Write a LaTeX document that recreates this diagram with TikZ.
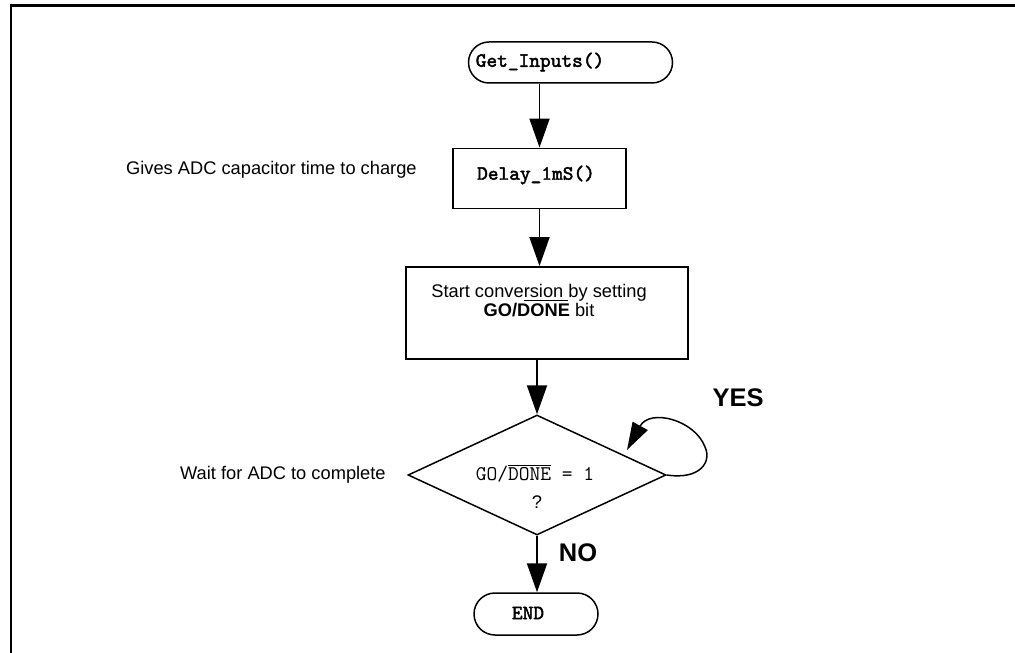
\documentclass[tikz,border=0pt]{standalone}
\usepackage{fontspec}
\setmainfont{Liberation Sans}
\newfontfamily\codefont{lmmono10-regular.otf}[FakeBold=2.2]
\usetikzlibrary{positioning, shapes.geometric, shapes.misc, arrows.meta}

\begin{document}
\begin{tikzpicture}[font=\fontsize{10.4}{10.9}\selectfont]
\tikzstyle{term}=[draw, rounded rectangle, line width=0.85pt, minimum height=0.82cm, inner sep=0pt]
\tikzstyle{proc}=[draw, rectangle, line width=1.1pt, inner sep=0pt]
\tikzstyle{code}=[font=\fontsize{11.6}{12}\selectfont\codefont]
\tikzstyle{flow}=[line width=1.1pt, -{Triangle[length=0.58cm, width=0.4cm]}]
\tikzstyle{answer}=[font=\fontsize{14.5}{17}\selectfont\bfseries]
\tikzstyle{note}=[anchor=east, inner sep=0pt]
\useasboundingbox (0,0) rectangle (20.3,-13.06);
\draw[line width=1.7pt] (0.22,-13.06) -- (0.22,-0.12) -- (20.3,-0.12);
% flow boxes
\node[term, minimum width=4.08cm] (start) at (11.41,-1.25) {};
\node[code] (startlbl) at (10.8,-1.24) {Get\_Inputs()};
\node[proc, minimum width=3.46cm, minimum height=1.2cm] (delay) at (10.79,-3.57) {};
\node[code] (delaylbl) at (10.72,-3.5) {Delay\_1mS()};
\node[proc, minimum width=5.64cm, minimum height=1.84cm] (conv) at (10.94,-6.26) {};
\node[align=center] (convlbl) at (10.78,-6.01) {Start conve\underline{rsion\ }by setting\\\textbf{GO/DONE} bit};
\node[draw, diamond, line width=0.85pt, minimum width=5.16cm, minimum height=2.4cm, inner sep=0pt] (test) at (10.74,-9.5) {};
\node[font=\fontsize{11.9}{12}\selectfont\ttfamily] (testlbl) at (10.7,-9.46) {GO/$\overline{\hbox{DONE}}$ = 1};
\node (qmark) at (10.74,-10.04) {?};
\node[term, minimum width=2.48cm, minimum height=0.84cm] (stop) at (10.72,-12.28) {};
\node[code] (stoplbl) at (10.56,-12.26) {END};
% notes
\node[note] (delaynote) at (8.34,-3.4) {Gives ADC capacitor time to charge};
\node[note] (waitnote) at (7.72,-9.5) {Wait for ADC to complete};
\node[answer] (yes) at (14.76,-7.96) {YES};
\node[answer] (no) at (11.56,-11.06) {NO};
% arrows
\draw[flow] (start.south -| delay) -- (delay.north);
\draw[flow] (delay.south) -- (delay.south |- conv.north);
\draw[flow] (conv.south -| test) -- (test.north);
\draw[flow] (test.south) -- (test.south |- stop.north);
\coordinate (looptip) at (12.54,-9.0);
\draw[line width=0.85pt, -{Triangle[length=0.55cm, width=0.34cm]}] (test.east) .. controls (14.0,-9.6) and (14.24,-9.24) .. (14.1,-8.94) .. controls (13.9,-8.4) and (13.0,-8.16) .. (looptip);
\end{tikzpicture}
\end{document}
